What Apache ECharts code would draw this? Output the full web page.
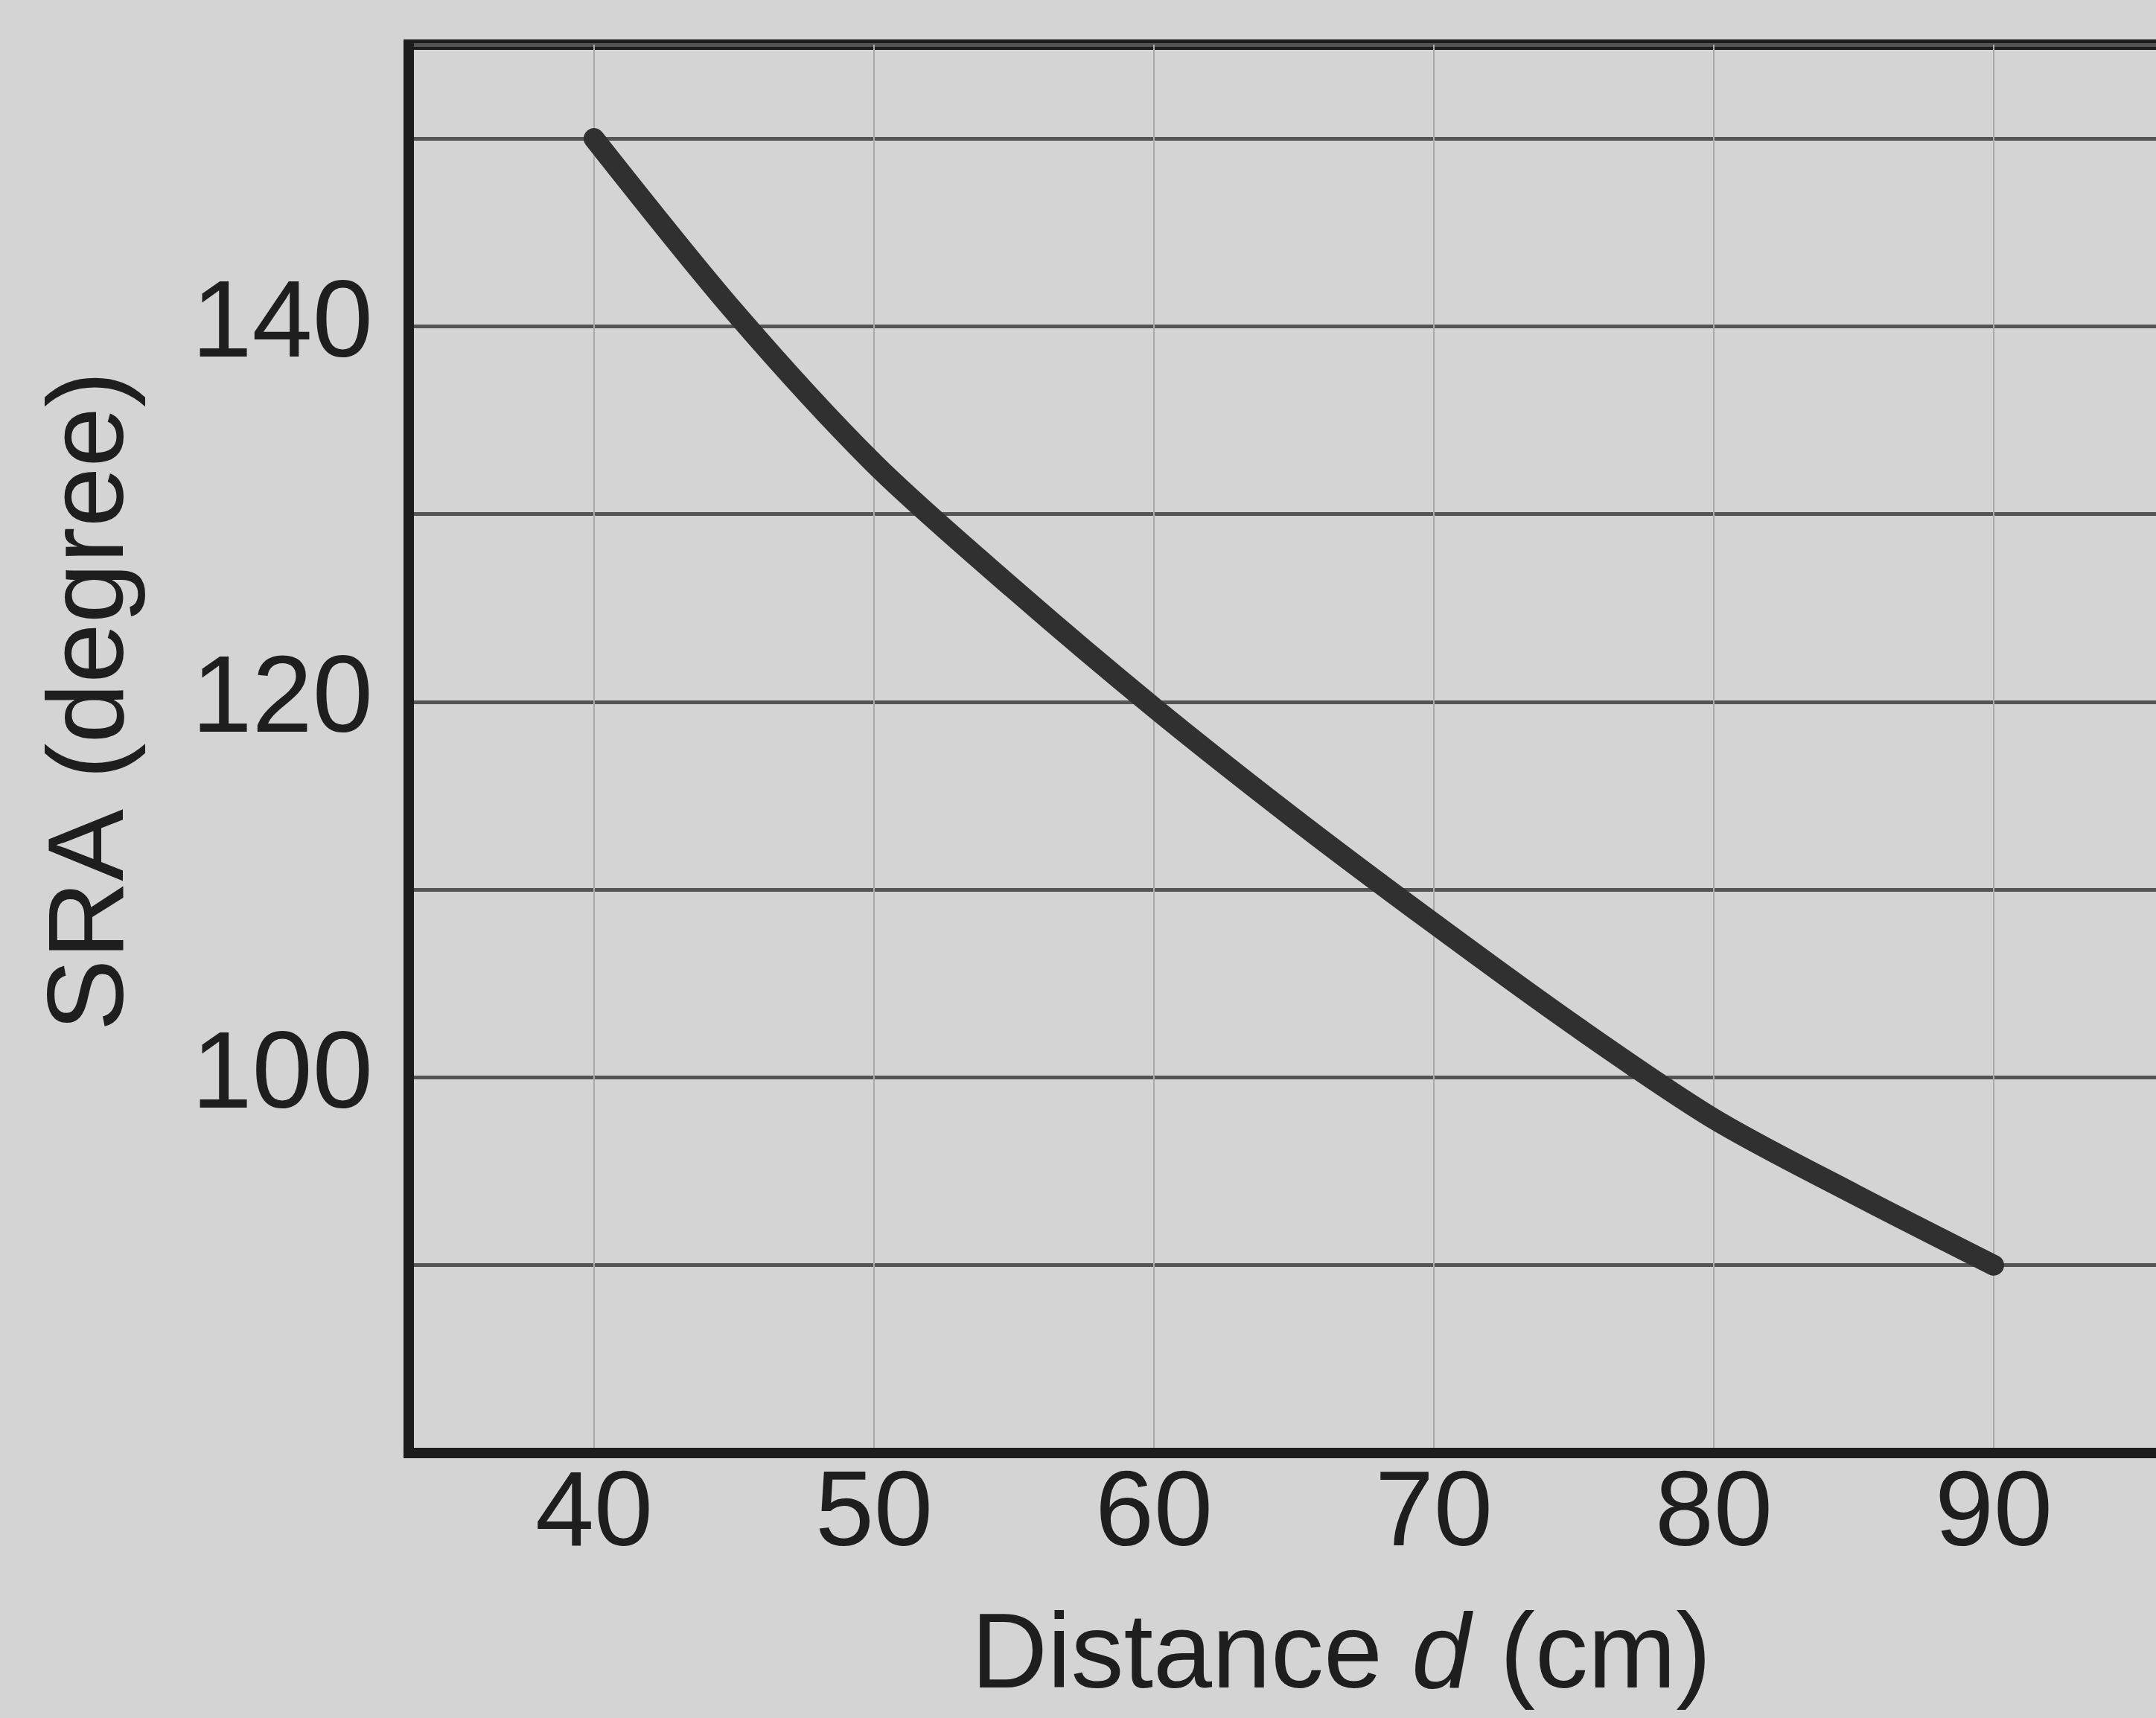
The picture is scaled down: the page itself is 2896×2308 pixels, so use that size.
<!DOCTYPE html>
<html>
<head>
<meta charset="utf-8">
<script src="https://cdn.jsdelivr.net/npm/echarts@6/dist/echarts.min.js"></script>
<style>
html,body{margin:0;padding:0;background:#d4d4d4;overflow:hidden;}
#chart{width:2896px;height:2308px;}
</style>
</head>
<body>
<div id="chart"></div>
<script>
// Data
const distance = [40, 45, 50, 55, 60, 65, 70, 75, 80, 85, 90];
const sra = [150, 140.8, 132.7, 126.0, 119.7, 113.8, 108.2, 102.8, 97.8, 93.8, 90.0];
const xTickLabels = [40, 50, 60, 70, 80, 90];
const yTickLabels = [100, 120, 140];

const FONT = "'Liberation Sans', Arial, Helvetica, sans-serif";
const chart = echarts.init(document.getElementById('chart'));

const option = {
  backgroundColor: '#d4d4d4',
  animation: false,
  grid: {
    left: 549, top: 60, right: -158, bottom: 356,
    show: true, borderColor: '#1c1c1c', borderWidth: 14,
    backgroundColor: 'transparent',
    containLabel: false, outerBoundsMode: 'none'
  },
  xAxis: {
    type: 'value', min: 33.38, max: 100,
    minInterval: 10, maxInterval: 10, splitNumber: 6,
    axisLine: { show: true, onZero: false, lineStyle: { color: '#1c1c1c', width: 14 } },
    axisTick: { show: false },
    axisLabel: {
      margin: 14, color: '#1e1e1e', fontFamily: FONT, fontSize: 142,
      showMinLabel: false, showMaxLabel: false,
      formatter: v => xTickLabels.some(t => Math.abs(t - v) < 1e-6) ? String(Math.round(v)) : ''
    },
    splitLine: { show: true, lineStyle: { color: '#a9a9a9', width: 2 } },
    name: '{a|Distance }{i|d}{a| (cm)}',
    nameLocation: 'middle', nameGap: 205,
    nameTextStyle: {
      rich: {
        a: { fontFamily: FONT, fontSize: 142, color: '#1e1e1e' },
        i: { fontFamily: FONT, fontSize: 142, fontStyle: 'italic', color: '#1e1e1e' }
      }
    }
  },
  yAxis: {
    type: 'value', min: 80, max: 155, interval: 10,
    axisLine: { show: true, onZero: false, lineStyle: { color: '#1c1c1c', width: 14 } },
    axisTick: { show: false },
    axisLabel: {
      margin: 48, color: '#1e1e1e', fontFamily: FONT, fontSize: 146,
      showMaxLabel: false,
      formatter: v => yTickLabels.indexOf(v) >= 0 ? String(v) : ''
    },
    splitLine: { show: true, lineStyle: { color: '#545454', width: 5 } }
  },
  graphic: [{
    type: 'text', x: 125, y: 942, rotation: Math.PI / 2,
    style: {
      text: 'SRA (degree)', x: 0, y: 0, align: 'center', verticalAlign: 'middle',
      font: "145px 'Liberation Sans', Arial, sans-serif", fill: '#1e1e1e'
    }
  }],
  series: [{
    type: 'line',
    data: distance.map((d, i) => [d, sra[i]]),
    smooth: 0.3, showSymbol: false,
    lineStyle: { color: '#303030', width: 28, cap: 'round', join: 'round' },
    z: 5
  }]
};
chart.setOption(option);
</script>
</body>
</html>
